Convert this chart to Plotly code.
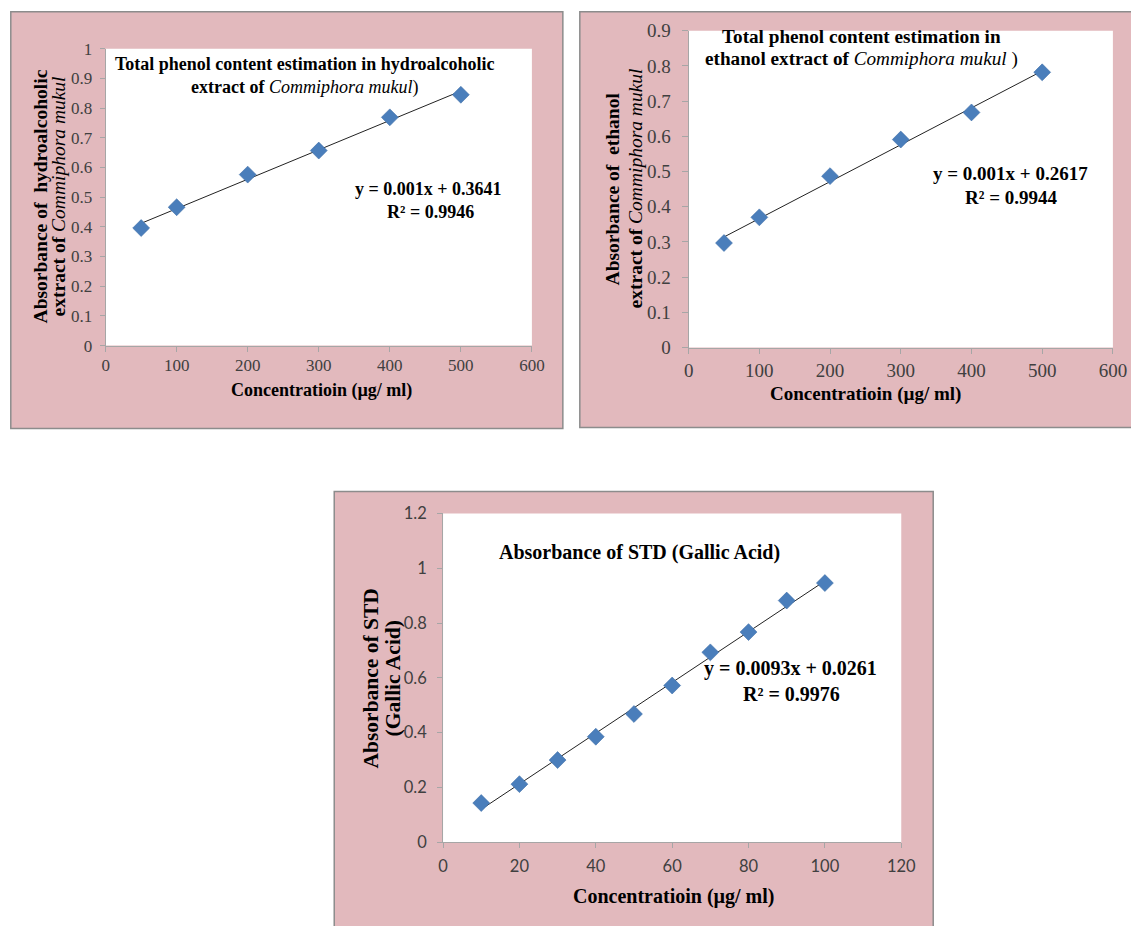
import numpy as np
import plotly.graph_objects as go

W, H = 1131, 926

# ---------------- data ----------------
hydro_conc = [50, 100, 200, 300, 400, 500]
hydro_abs = [0.396, 0.466, 0.576, 0.657, 0.769, 0.845]

ethanol_conc = [50, 100, 200, 300, 400, 500]
ethanol_abs = [0.297, 0.370, 0.487, 0.591, 0.668, 0.782]

std_conc = [10, 20, 30, 40, 50, 60, 70, 80, 90, 100]
std_abs = [0.143, 0.212, 0.300, 0.385, 0.468, 0.572, 0.693, 0.767, 0.882, 0.946]

hydro_eq = ["y = 0.001x + 0.3641", "R² = 0.9946"]
ethanol_eq = ["y = 0.001x + 0.2617", "R² = 0.9944"]
std_eq = ["y = 0.0093x + 0.0261", "R² = 0.9976"]

x_ticks_600 = [0, 100, 200, 300, 400, 500, 600]
x_ticks_120 = [0, 20, 40, 60, 80, 100, 120]
y_ticks_10 = [0, 0.1, 0.2, 0.3, 0.4, 0.5, 0.6, 0.7, 0.8, 0.9, 1]
y_text_10 = ["0", "0.1", "0.2", "0.3", "0.4", "0.5", "0.6", "0.7", "0.8", "0.9", "1"]
y_ticks_09 = [0, 0.1, 0.2, 0.3, 0.4, 0.5, 0.6, 0.7, 0.8, 0.9]
y_text_09 = ["0", "0.1", "0.2", "0.3", "0.4", "0.5", "0.6", "0.7", "0.8", "0.9"]
y_ticks_12 = [0, 0.2, 0.4, 0.6, 0.8, 1.0, 1.2]
y_text_12 = ["0", "0.2", "0.4", "0.6", "0.8", "1", "1.2"]

x_title = "<b>Concentratioin (µg/ ml)</b>"

# ---------------- helpers (picture pixels -> paper fractions) ----------------
SX, OX = 0.984, 4.2
SY, OY = 0.978, 9.2

def px(x):
    return ((x - OX) / SX) / W

def py(y):
    return 1 - ((y - OY) / SY) / H

PINK = "#e2b9bd"
FRAME = "#8c8c8c"
AXIS = "#a6a6a6"
BLUE = "#4a7ebb"
SERIF = "Liberation Serif"
SANS = "Lato"

fig = go.Figure()

def add_chart(idx, xs, ys):
    xa = "x" if idx == 1 else f"x{idx}"
    ya = "y" if idx == 1 else f"y{idx}"
    slope, intercept = np.polyfit(xs, ys, 1)
    lx = np.array([min(xs), max(xs)])
    fig.add_trace(go.Scatter(x=lx, y=slope * lx + intercept, mode="lines",
                             line=dict(color="#222222", width=1),
                             xaxis=xa, yaxis=ya, showlegend=False, hoverinfo="skip"))
    fig.add_trace(go.Scatter(x=xs, y=ys, mode="markers",
                             marker=dict(symbol="diamond", size=13, color=BLUE,
                                         line=dict(color="#3f6fa8", width=0.6)),
                             xaxis=xa, yaxis=ya, showlegend=False))

add_chart(1, hydro_conc, hydro_abs)
add_chart(2, ethanol_conc, ethanol_abs)
add_chart(3, std_conc, std_abs)

# plot area pixel boxes (left, top, right, bottom)
boxes = {
    1: (105, 48, 532, 345),
    2: (689, 30, 1114, 347),
    3: (443, 513, 902, 842),
}
frames = [(10, 11, 563, 428), (580, 11, 1160, 427), (334, 491, 934, 950)]

# per chart: tick font family, size, x standoff, y standoff, y ticklen
tick_cfg = {
    1: (SERIF, 17, -1, 4, 5),
    2: (SERIF, 19, 1, 7, 6),
    3: (SANS, 16.5, 4, 7, 5),
}

def axis_common(font_family, size, standoff, ticklen):
    return dict(showline=True, linecolor=AXIS, linewidth=1, ticks="outside",
                ticklen=ticklen, tickcolor=AXIS, tickwidth=1, showgrid=False,
                zeroline=False, fixedrange=True,
                tickfont=dict(family=font_family, size=size, color="#404040"),
                ticklabelstandoff=standoff)

layout = dict(width=W, height=H, margin=dict(l=0, r=0, t=0, b=0),
              paper_bgcolor="white", plot_bgcolor="rgba(0,0,0,0)", showlegend=False)

for i, (l, t, r, b) in boxes.items():
    xk = "xaxis" if i == 1 else f"xaxis{i}"
    yk = "yaxis" if i == 1 else f"yaxis{i}"
    ya = "y" if i == 1 else f"y{i}"
    xa = "x" if i == 1 else f"x{i}"
    fam, fs, xs_off, ys_off, ytl = tick_cfg[i]
    xcfg = axis_common(fam, fs, xs_off, 5)
    ycfg = axis_common(fam, fs, ys_off, ytl)
    xcfg.update(domain=[px(l), px(r)], anchor=ya, tickmode="array")
    ycfg.update(domain=[py(b), py(t)], anchor=xa, tickmode="array")
    if i < 3:
        xcfg.update(range=[0, 600], tickvals=x_ticks_600)
    else:
        xcfg.update(range=[0, 120], tickvals=x_ticks_120)
    if i == 1:
        ycfg.update(range=[0, 1], tickvals=y_ticks_10, ticktext=y_text_10)
    elif i == 2:
        ycfg.update(range=[0, 0.9], tickvals=y_ticks_09, ticktext=y_text_09)
    else:
        ycfg.update(range=[0, 1.2], tickvals=y_ticks_12, ticktext=y_text_12)
    layout[xk] = xcfg
    layout[yk] = ycfg

shapes = []
for (l, t, r, b) in frames:
    shapes.append(dict(type="rect", xref="paper", yref="paper", layer="below",
                       x0=px(l), x1=px(r), y0=py(b), y1=py(t),
                       fillcolor=PINK, line=dict(color=FRAME, width=1.5)))
for (l, t, r, b) in boxes.values():
    shapes.append(dict(type="rect", xref="paper", yref="paper", layer="below",
                       x0=px(l), x1=px(r), y0=py(b), y1=py(t),
                       fillcolor="white", line=dict(width=0)))
layout["shapes"] = shapes

def ann(text, x, y, size, angle=0, family=SERIF):
    return dict(text=text, x=px(x), y=py(y), xref="paper", yref="paper",
                xanchor="center", yanchor="middle", showarrow=False,
                textangle=angle, font=dict(family=family, size=size, color="black"))

annotations = [
    # chart 1
    ann("<b>Total phenol content estimation in hydroalcoholic</b>", 305, 63, 18),
    ann("<b>extract of </b><i>Commiphora mukul</i>)", 304, 87, 18),
    ann("<b>" + hydro_eq[0] + "</b>", 428, 188, 18),
    ann("<b>" + hydro_eq[1] + "</b>", 430, 211, 18),
    ann(x_title, 321, 390, 18),
    ann("<b>Absorbance of  hydroalcoholic</b>", 40, 196, 19.5, -90),
    ann("<b>extract of </b><i>Commiphora mukul</i>", 58, 196, 19.5, -90),
    # chart 2
    ann("<b>Total phenol content estimation in</b>", 862, 36, 19.2),
    ann("<b>ethanol extract of </b><i>Commiphora mukul </i>)", 862, 58, 19.2),
    ann("<b>" + ethanol_eq[0] + "</b>", 1011, 173, 19),
    ann("<b>" + ethanol_eq[1] + "</b>", 1012, 197, 19),
    ann(x_title, 866, 393, 19),
    ann("<b>Absorbance of  ethanol</b>", 613, 188, 19.5, -90),
    ann("<b>extract of </b><i>Commiphora mukul</i>", 636, 188, 19.5, -90),
    # chart 3
    ann("<b>Absorbance of STD (Gallic Acid)</b>", 640, 552, 20),
    ann("<b>" + std_eq[0] + "</b>", 791, 668, 20),
    ann("<b>" + std_eq[1] + "</b>", 792, 694, 20),
    ann(x_title, 674, 896, 20),
    ann("<b>Absorbance of STD</b>", 371, 678, 21.5, -90),
    ann("<b>(Gallic Acid)</b>", 393, 678, 21.5, -90),
]
layout["annotations"] = annotations

fig.update_layout(**layout)
fig.write_html("out.html",
               config={"displayModeBar": False},
               post_script="document.body.style.margin='0';"
                           "document.body.style.overflow='hidden';")
